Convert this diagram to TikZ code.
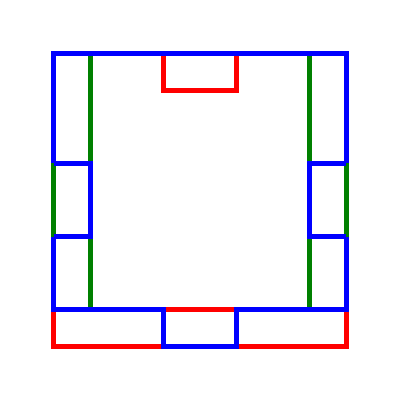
\documentclass[tikz,border=0pt]{standalone}
\definecolor{bl}{RGB}{0,0,255}
\definecolor{rd}{RGB}{255,0,0}
\definecolor{gr}{RGB}{0,128,0}
\tikzset{
  wall/.style={line width=3.9pt, line join=miter},
  bwall/.style={wall, draw=bl},
  rwall/.style={wall, draw=rd},
  gwall/.style={wall, draw=gr}
}
\begin{document}
\begin{tikzpicture}
\useasboundingbox (-1.4645,1.4645) rectangle (9.4645,-9.4645);
% red
\draw[rwall] (0,-7)--(0,-8)--(3,-8);
\draw[rwall] (5,-8)--(8,-8)--(8,-7);
\draw[rwall] (3,-7)--(5,-7);
\draw[rwall] (3,0)--(3,-1)--(5,-1)--(5,0);
% green
\draw[gwall] (0,-3)--(0,-5);
\draw[gwall] (8,-3)--(8,-5);
\draw[gwall] (1,0)--(1,-3);
\draw[gwall] (1,-5)--(1,-7);
\draw[gwall] (7,0)--(7,-3);
\draw[gwall] (7,-5)--(7,-7);
% blue
\draw[bwall] (0,-3)--(0,0)--(8,0)--(8,-3);
\draw[bwall] (0,-3)--(1,-3)--(1,-5)--(0,-5);
\draw[bwall] (8,-3)--(7,-3)--(7,-5)--(8,-5);
\draw[bwall] (0,-5)--(0,-7)--(3,-7)--(3,-8)--(5,-8)--(5,-7)--(8,-7)--(8,-5);
\end{tikzpicture}
\end{document}
